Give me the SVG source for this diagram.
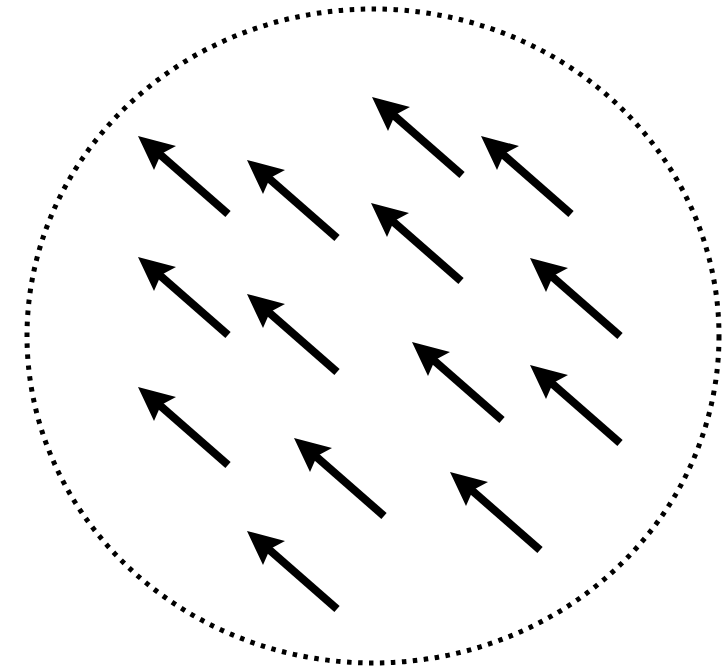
<svg xmlns="http://www.w3.org/2000/svg" xmlns:xlink="http://www.w3.org/1999/xlink" width="722" height="672" viewBox="0 0 722 672">
<defs>
<style>
.boundary{fill:none;stroke:#000;stroke-width:5;stroke-dasharray:4.5 6.5}
.shaft{stroke:#000;stroke-width:8;stroke-linecap:butt}
.head{fill:#000}
</style>
<g id="arrow">
<line class="shaft" x1="18" y1="15" x2="90" y2="78"/>
<polygon class="head" points="0,0 38,10 23,18 16,34"/>
</g>
</defs>
<rect width="722" height="672" fill="#fff"/>
<ellipse id="boundary" class="boundary" cx="373" cy="336" rx="346" ry="327"/>
<g id="arrows">
<use xlink:href="#arrow" x="138" y="136"/>
<use xlink:href="#arrow" x="372" y="97"/>
<use xlink:href="#arrow" x="481" y="136"/>
<use xlink:href="#arrow" x="247" y="160"/>
<use xlink:href="#arrow" x="371" y="203"/>
<use xlink:href="#arrow" x="138" y="257"/>
<use xlink:href="#arrow" x="247" y="294"/>
<use xlink:href="#arrow" x="530" y="258"/>
<use xlink:href="#arrow" x="412" y="342"/>
<use xlink:href="#arrow" x="530" y="365"/>
<use xlink:href="#arrow" x="138" y="387"/>
<use xlink:href="#arrow" x="294" y="438"/>
<use xlink:href="#arrow" x="450" y="472"/>
<use xlink:href="#arrow" x="247" y="531"/>
</g>
</svg>
